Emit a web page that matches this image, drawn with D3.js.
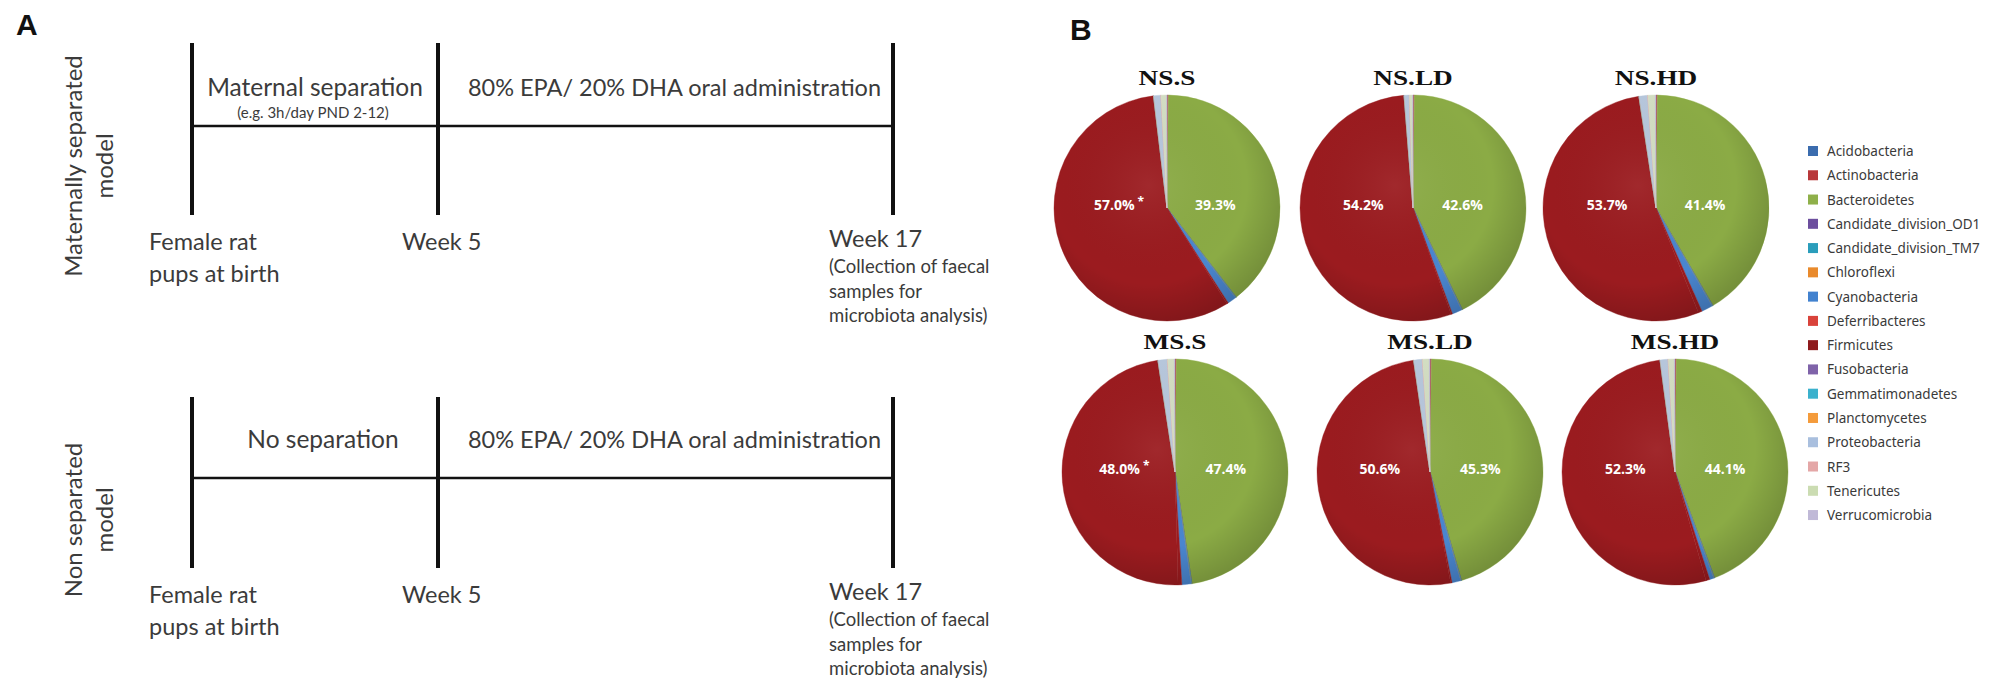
<!DOCTYPE html>
<html><head><meta charset="utf-8">
<script src="https://cdn.jsdelivr.net/npm/d3@7"></script>
<style>body{margin:0;background:#fff} svg{display:block}</style>
</head><body>
<svg id="c" width="1993" height="681"></svg>
<script>
// ---------------- DATA ----------------
// Panel A : experimental timeline
const rowLabelLines = [["Maternally separated", "model"], ["Non separated", "model"]];
const milestoneWeeks = [0, 5, 17];
const milestoneLabels = [["Female rat", "pups at birth"], ["Week 5"], ["Week 17"]];
const week17Note = ["(Collection of faecal", "samples for", "microbiota analysis)"];
const phaseLabels = [["Maternal separation", "80% EPA/ 20% DHA oral administration"],
                     ["No separation", "80% EPA/ 20% DHA oral administration"]];
const phaseSubLabels = [["(e.g. 3h/day PND 2-12)", ""], ["", ""]];

// Panel B : phylum-level relative abundance (%)
const phyla = ["Acidobacteria", "Actinobacteria", "Bacteroidetes", "Candidate_division_OD1",
  "Candidate_division_TM7", "Chloroflexi", "Cyanobacteria", "Deferribacteres", "Firmicutes",
  "Fusobacteria", "Gemmatimonadetes", "Planctomycetes", "Proteobacteria", "RF3",
  "Tenericutes", "Verrucomicrobia"];
const groups = ["NS.S", "NS.LD", "NS.HD", "MS.S", "MS.LD", "MS.HD"];
const valuesNSS  = [0.05, 0.15, 39.3, 0.02, 0.10, 0.01, 1.25, 0.20, 57.0, 0.01, 0.01, 0.01, 1.00, 0.05, 0.80, 0.04];
const valuesNSLD = [0.05, 0.15, 42.6, 0.02, 0.10, 0.01, 1.39, 0.20, 54.2, 0.01, 0.01, 0.01, 0.70, 0.05, 0.45, 0.05];
const valuesNSHD = [0.05, 0.15, 41.4, 0.02, 0.10, 0.01, 1.60, 0.54, 53.7, 0.01, 0.01, 0.01, 1.20, 0.05, 1.05, 0.10];
const valuesMSS  = [0.05, 0.15, 47.4, 0.02, 0.10, 0.01, 1.30, 0.54, 48.0, 0.01, 0.01, 0.01, 1.30, 0.05, 0.95, 0.10];
const valuesMSLD = [0.05, 0.15, 45.3, 0.02, 0.10, 0.01, 1.24, 0.20, 50.6, 0.01, 0.01, 0.01, 1.20, 0.05, 0.95, 0.10];
const valuesMSHD = [0.05, 0.15, 44.1, 0.02, 0.10, 0.01, 0.60, 0.54, 52.3, 0.01, 0.01, 0.01, 1.10, 0.05, 0.85, 0.10];
const groupValues = [valuesNSS, valuesNSLD, valuesNSHD, valuesMSS, valuesMSLD, valuesMSHD];
const significant = [true, false, false, true, false, false];   // "*" on Firmicutes
const labelledPhyla = ["Firmicutes", "Bacteroidetes"];

// ---------------- STYLE / LAYOUT ----------------
const legendColors = ["#3b6cae", "#b8383a", "#8fb04a", "#6c4e9e", "#2a9dbb", "#e98a2c", "#4282cf",
  "#d9433b", "#8e1a1c", "#7f63a9", "#3bb1cd", "#f49b3b", "#a9bfde", "#e4a7a7", "#cbdcb2", "#c0b9d7"];
const sliceColors = legendColors.slice();
sliceColors[2] = "#8bab45";   // Bacteroidetes in pies
sliceColors[8] = "#9b1b1f";   // Firmicutes in pies
sliceColors[6] = "#4a86cf";
sliceColors[7] = "#9b1b1f";
sliceColors[12] = "#b7c7dc";
sliceColors[14] = "#d3dec3";

const svg = d3.select("#c");
const ink = "#3b3b3b";
const sans = "Lato, 'Open Sans', sans-serif";
const serif = "'Liberation Serif', 'DejaVu Serif', serif";

// panel letters
svg.append("text").attr("x", 16).attr("y", 35).text("A")
  .attr("font-family", "'Liberation Sans', Arial, sans-serif").attr("font-weight", "bold")
  .attr("font-size", 30).attr("fill", "#111");
svg.append("text").attr("x", 1070).attr("y", 40).text("B")
  .attr("font-family", "'Liberation Sans', Arial, sans-serif").attr("font-weight", "bold")
  .attr("font-size", 30).attr("fill", "#111");

// ---------------- PANEL A ----------------
const xWeek = d3.scaleLinear().domain(milestoneWeeks).range([192, 438, 893]);
const rowGeom = [{top: 43, bottom: 215, line: 126, labelY: 166},
                 {top: 397, bottom: 568, line: 478, labelY: 520}];
const milestoneDx = [-43, -36, -64];
const phaseFont = [24.5, 23.5];

rowGeom.forEach((g, i) => {
  const G = svg.append("g");
  // rotated row label
  rowLabelLines[i].forEach((t, k) => {
    G.append("text")
      .attr("transform", `translate(${82 + k * 31},${g.labelY}) rotate(-90)`)
      .attr("text-anchor", "middle").attr("font-family", sans).attr("font-size", 24)
      .attr("fill", ink).text(t);
  });
  // horizontal axis line
  G.append("line").attr("x1", xWeek(milestoneWeeks[0])).attr("x2", xWeek(milestoneWeeks[2]))
    .attr("y1", g.line).attr("y2", g.line).attr("stroke", "#111").attr("stroke-width", 2.5);
  // milestone bars
  G.selectAll("line.m").data(milestoneWeeks).join("line").attr("class", "m")
    .attr("x1", d => xWeek(d)).attr("x2", d => xWeek(d))
    .attr("y1", g.top).attr("y2", g.bottom).attr("stroke", "#111").attr("stroke-width", 4);
  // phase labels
  phaseLabels[i].forEach((t, j) => {
    const cx = (xWeek(milestoneWeeks[j]) + xWeek(milestoneWeeks[j + 1])) / 2 + (j === 1 ? 9 : (i === 1 ? 8 : 0));
    G.append("text").attr("x", cx).attr("y", g.line - 30).attr("text-anchor", "middle")
      .attr("font-family", sans).attr("font-size", phaseFont[j]).attr("fill", ink).text(t);
    if (phaseSubLabels[i][j]) {
      G.append("text").attr("x", cx - 2).attr("y", g.line - 8).attr("text-anchor", "middle")
        .attr("font-family", sans).attr("font-size", 15).attr("fill", ink).text(phaseSubLabels[i][j]);
    }
  });
  // milestone labels
  milestoneWeeks.forEach((w, j) => {
    const x0 = xWeek(w) + milestoneDx[j];
    const y0 = g.bottom + (j === 2 ? 32 : 35);
    milestoneLabels[j].forEach((t, k) => {
      G.append("text").attr("x", x0).attr("y", y0 + k * 32)
        .attr("font-family", sans).attr("font-size", 23.5).attr("fill", ink).text(t);
    });
    if (j === 2) {
      week17Note.forEach((t, k) => {
        G.append("text").attr("x", x0).attr("y", g.bottom + 58 + k * 24.5)
          .attr("font-family", sans).attr("font-size", 18.5).attr("fill", ink).text(t);
      });
    }
  });
});

// ---------------- PANEL B ----------------
const pieCenters = [[1167, 208], [1413, 208], [1656, 208], [1175, 472], [1430, 472], [1675, 472]];
const R = 113;
const pie = d3.pie().sort(null).value(d => d);
const arc = d3.arc().innerRadius(0).outerRadius(R);
const color = d3.scaleOrdinal().domain(phyla).range(sliceColors);
const legendColor = d3.scaleOrdinal().domain(phyla).range(legendColors);

const defs = svg.append("defs");
const shade = defs.append("radialGradient").attr("id", "shade").attr("cx", "42%").attr("cy", "40%").attr("r", "62%");
shade.append("stop").attr("offset", "0%").attr("stop-color", "#fff").attr("stop-opacity", 0.06);
shade.append("stop").attr("offset", "70%").attr("stop-color", "#000").attr("stop-opacity", 0.0);
shade.append("stop").attr("offset", "100%").attr("stop-color", "#000").attr("stop-opacity", 0.16);

groups.forEach((name, gi) => {
  const [cx, cy] = pieCenters[gi];
  const G = svg.append("g").attr("transform", `translate(${cx},${cy})`);
  const arcs = pie(groupValues[gi]);
  arcs.forEach((a, k) => a.phylum = phyla[k]);
  G.selectAll("path").data(arcs).join("path")
    .attr("d", arc).attr("fill", d => color(d.phylum))
    .attr("stroke", d => color(d.phylum)).attr("stroke-width", 0.4);
  G.append("circle").attr("r", R).attr("fill", "url(#shade)");
  // title
  G.append("text").attr("transform", `translate(0,${-R - 10}) scale(1.33,1)`)
    .attr("text-anchor", "middle").attr("font-family", serif).attr("font-weight", "bold")
    .attr("font-size", 20.5).attr("fill", "#111").text(name);
  // value labels
  arcs.filter(a => labelledPhyla.includes(a.phylum)).forEach(a => {
    const mid = (a.startAngle + a.endAngle) / 2;
    const x = Math.sin(mid) * R * 0.45;
    const t = G.append("text").attr("x", x).attr("y", 2).attr("text-anchor", "middle")
      .attr("font-family", "'Open Sans', sans-serif").attr("font-weight", "bold")
      .attr("font-size", 14).attr("fill", "#fff").text(d3.format(".1f")(a.value) + "%");
    if (a.phylum === "Firmicutes" && significant[gi]) {
      t.append("tspan").attr("dx", 3).attr("dy", -4).attr("font-size", 12).text("*");
    }
  });
});

// legend
const legend = svg.append("g").attr("transform", "translate(1808,151)");
const legRow = legend.selectAll("g").data(phyla).join("g")
  .attr("transform", (d, i) => `translate(0,${i * 24.27})`);
legRow.append("rect").attr("x", 0).attr("y", -5).attr("width", 10).attr("height", 10)
  .attr("fill", d => legendColor(d));
legRow.append("text").attr("x", 19).attr("y", 5).attr("font-family", "'Noto Sans', sans-serif")
  .attr("font-size", 13.5).attr("fill", "#3a3a3a").text(d => d);
</script>
</body></html>
